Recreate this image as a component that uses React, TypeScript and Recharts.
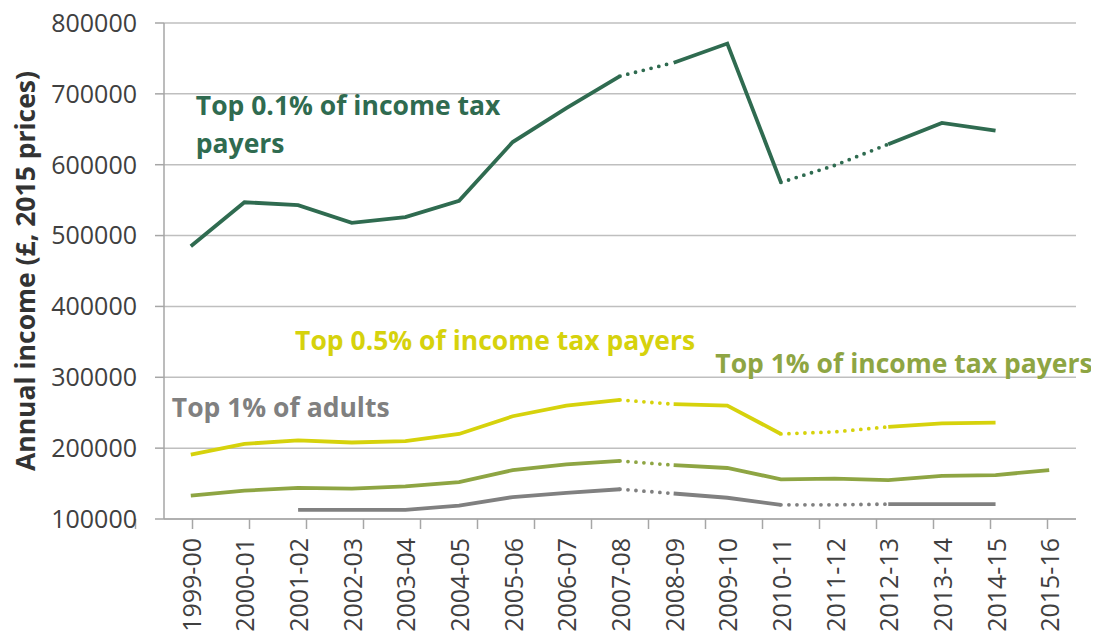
import React from 'react';
import { LineChart, Line, XAxis, YAxis, CartesianGrid, ReferenceDot } from 'recharts';

const years = ['1999-00','2000-01','2001-02','2002-03','2003-04','2004-05','2005-06','2006-07','2007-08','2008-09','2009-10','2010-11','2011-12','2012-13','2013-14','2014-15','2015-16'];

const top01Tax = [485000,547000,543000,518000,526000,549000,632000,680000,725000,744000,771000,575000,599000,629000,659000,648000,null];
const top05Tax = [191000,206000,211000,208000,210000,220000,245000,260000,268000,262000,260000,220000,223000,230000,235000,236000,null];
const top1Tax = [133000,140000,144000,143000,146000,152000,169000,177000,182000,176000,172000,156000,157000,155000,161000,162000,169000];
const top1Adults = [null,null,113000,113000,113000,119000,131000,137000,142000,136000,130000,120000,120000,121000,121000,121000,null];

// segments (index i -> i+1) drawn dotted
const dotted01 = [8, 11, 12];
const dotted05 = [8, 11, 12];
const dotted1 = [8];
const dottedAdults = [8, 11, 12];

const yTicks = [100000,200000,300000,400000,500000,600000,700000,800000];

const FONT = '"Open Sans", sans-serif';

const seriesList = [
  { key: 'adults', values: top1Adults, dotted: dottedAdults, color: '#808080' },
  { key: 'tax1', values: top1Tax, dotted: dotted1, color: '#8EA543' },
  { key: 'tax05', values: top05Tax, dotted: dotted05, color: '#D6D20C' },
  { key: 'tax01', values: top01Tax, dotted: dotted01, color: '#2F6B50' },
];

type Run = { start: number; end: number; dotted: boolean };

function splitRuns(values: (number | null)[], dotted: number[]): Run[] {
  const runs: Run[] = [];
  for (let i = 0; i < values.length - 1; i++) {
    if (values[i] == null || values[i + 1] == null) continue;
    const d = dotted.includes(i);
    const last = runs[runs.length - 1];
    if (last && last.dotted === d && last.end === i) last.end = i + 1;
    else runs.push({ start: i, end: i + 1, dotted: d });
  }
  return runs;
}

const lineDefs: { dataKey: string; color: string; dotted: boolean }[] = [];
const data: Record<string, any>[] = years.map((y) => ({ year: y }));
seriesList.forEach((s) => {
  const runs = splitRuns(s.values, s.dotted);
  runs.forEach((r, ri) => {
    const k = `${s.key}_${ri}`;
    lineDefs.push({ dataKey: k, color: s.color, dotted: r.dotted });
    data.forEach((row, idx) => {
      row[k] = idx >= r.start && idx <= r.end ? s.values[idx] : null;
    });
  });
});

const frameTicks = years.map((_, i) => i - 0.5).concat([years.length - 0.5]);

const CatTick = (props: any) => {
  const { x, y, payload } = props;
  return (
    <text x={x} y={y} transform={`rotate(-90 ${x} ${y})`} textAnchor="end" dominantBaseline="central"
      fontSize={25} fill="#404040" fontFamily={FONT}>
      {payload.value}
    </text>
  );
};

const annotation = (lines: string[], color: string, dx: number) => (props: any) => {
  const vb = props.viewBox;
  const x = vb.x + dx;
  return (
    <text x={x} y={vb.y} fill={color} fontWeight={700} fontSize={26.5} fontFamily={FONT}>
      {lines.map((l, i) => (
        <tspan key={i} x={x} dy={i === 0 ? 0 : 38}>{l}</tspan>
      ))}
    </text>
  );
};

const YTitle = (props: any) => {
  const vb = props.viewBox;
  const x = vb.x + 17;
  const y = vb.y + vb.height / 2;
  return (
    <text x={x} y={y} transform={`rotate(-90 ${x} ${y})`} textAnchor="middle" dominantBaseline="central"
      fontSize={26.5} fontWeight={700} fill="#333333" fontFamily={FONT}>
      Annual income (£, 2015 prices)
    </text>
  );
};

export default function App() {
  return (
    <div style={{ width: 1091, height: 629, fontFamily: FONT }}>
      <LineChart width={1091} height={629} data={data} margin={{ top: 15, right: 23, left: 0, bottom: 0 }}
        style={{ overflow: 'visible' }}>
        <CartesianGrid horizontal vertical={false} stroke="#BFBFBF" strokeWidth={1.5} xAxisId="b_cat" />
        <XAxis xAxisId="a_frame" type="number" domain={[-0.5, years.length - 0.5]} ticks={frameTicks}
          allowDataOverflow height={10} tickSize={10} tickFormatter={() => ''}
          axisLine={{ stroke: '#A6A6A6', strokeWidth: 1.5 }} tickLine={{ stroke: '#A6A6A6', strokeWidth: 1.5 }} />
        <XAxis xAxisId="b_cat" dataKey="year" type="category" interval={0} height={108}
          padding={{ left: 26.8, right: 26.8 }} axisLine={false} tickLine={false} tickSize={0} tickMargin={9}
          tick={<CatTick />} />
        <YAxis domain={[100000, 800000]} ticks={yTicks} width={156} tickSize={9} tickMargin={18}
          axisLine={{ stroke: '#A6A6A6', strokeWidth: 1.5 }} tickLine={{ stroke: '#A6A6A6', strokeWidth: 1.5 }}
          tick={{ fontSize: 25, fill: '#404040', fontFamily: FONT }} label={YTitle} />
        {lineDefs.map((d) => (
          <Line key={d.dataKey} xAxisId="b_cat" dataKey={d.dataKey} stroke={d.color} strokeWidth={3.8}
            strokeDasharray={d.dotted ? '0 8' : undefined} strokeLinecap={d.dotted ? 'round' : 'butt'}
            dot={false} activeDot={false} connectNulls={false} isAnimationActive={false} type="linear" />
        ))}
        <ReferenceDot xAxisId="b_cat" x="1999-00" y={670000} r={0} fill="none" stroke="none"
          label={annotation(['Top 0.1% of income tax', 'payers'], '#2F6B50', 5)} />
        <ReferenceDot xAxisId="b_cat" x="2001-02" y={338000} r={0} fill="none" stroke="none"
          label={annotation(['Top 0.5% of income tax payers'], '#D6D20C', -3)} />
        <ReferenceDot xAxisId="b_cat" x="2009-10" y={306000} r={0} fill="none" stroke="none"
          label={annotation(['Top 1% of income tax payers'], '#8EA543', -12)} />
        <ReferenceDot xAxisId="b_cat" x="1999-00" y={244000} r={0} fill="none" stroke="none"
          label={annotation(['Top 1% of adults'], '#808080', -19)} />
      </LineChart>
    </div>
  );
}
